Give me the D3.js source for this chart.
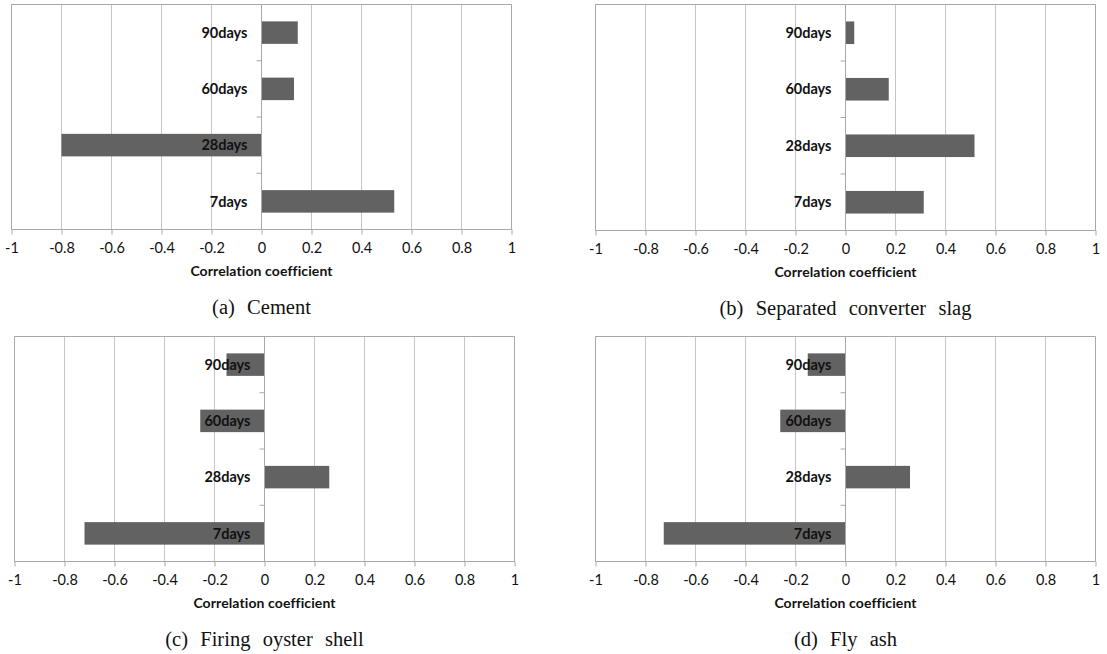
<!DOCTYPE html>
<html>
<head>
<meta charset="utf-8">
<script src="https://cdn.jsdelivr.net/npm/d3@7"></script>
<style>
  body { margin: 0; background: #fff; }
  svg { display: block; }
</style>
</head>
<body>
<div id="chart"></div>
<script>
// categories, top to bottom as drawn
let categories = ["90days", "60days", "28days", "7days"];

// correlation coefficients, same order as categories
let cementValues = [0.145, 0.13, -0.80, 0.531];
let slagValues = [0.035, 0.173, 0.516, 0.313];
let oysterValues = [-0.152, -0.257, 0.259, -0.72];
let flyAshValues = [-0.151, -0.261, 0.258, -0.727];

let tickValues = [-1, -0.8, -0.6, -0.4, -0.2, 0, 0.2, 0.4, 0.6, 0.8, 1];
let axisTitle = "Correlation coefficient";
let captions = ["(a)  Cement", "(b)  Separated  converter  slag", "(c)  Firing  oyster  shell", "(d)  Fly  ash"];

let width = 1107,
    height = 654;

// plot areas of the four panels
let panels = [
    {values: cementValues, caption: captions[0], left: 11.5, right: 511.5, top: 4.5, bottom: 229.5},
    {values: slagValues, caption: captions[1], left: 595.5, right: 1095.5, top: 4.5, bottom: 230.5},
    {values: oysterValues, caption: captions[2], left: 14.5, right: 514.5, top: 336.5, bottom: 561.5},
    {values: flyAshValues, caption: captions[3], left: 595.5, right: 1095.5, top: 336.5, bottom: 561.5}
];

let gridColor = "#c6c6c6",
    frameColor = "#a8a8a8",
    barColor = "#626262";

let svg = d3.select("#chart")
        .append("svg")
        .attr("width", width)
        .attr("height", height)

for (let p of panels) {
    drawPanel(p)
}

function drawPanel(p) {
    let visWidth = p.right - p.left,
        visHeight = p.bottom - p.top;

    let xScale = d3.scaleLinear()
            .domain([-1, 1])
            .range([0, visWidth])

    let yScale = d3.scaleBand()
            .domain(categories)
            .range([0, visHeight])
            .paddingInner(0.6)
            .paddingOuter(0.3)

    let bandScale = d3.scaleBand()
            .domain(categories)
            .range([0, visHeight])

    let data = categories.map(function(c, i) { return {cat: c, value: p.values[i]} })

    let chart = svg.append("g")
            .attr("transform", "translate(" + p.left + "," + p.top + ")")

    // vertical gridlines
    chart.selectAll(".grid")
    .data(tickValues)
    .enter().append("line")
    .attr("class", "grid")
    .attr("x1", function(d) { return xScale(d) })
    .attr("x2", function(d) { return xScale(d) })
    .attr("y1", 0)
    .attr("y2", visHeight)
    .attr("stroke", gridColor)
    .attr("stroke-width", 1)

    // plot area border (top, left, right)
    chart.append("path")
    .attr("d", "M0," + visHeight + "V0H" + visWidth + "V" + visHeight)
    .attr("fill", "none")
    .attr("stroke", frameColor)
    .attr("stroke-width", 1)

    // bars
    chart.selectAll(".bar")
    .data(data)
    .enter().append("rect")
    .attr("class", "bar")
    .attr("x", function(d) { return xScale(Math.min(0, d.value)) })
    .attr("width", function(d) { return Math.abs(xScale(d.value) - xScale(0)) })
    .attr("y", function(d) { return yScale(d.cat) })
    .attr("height", yScale.bandwidth())
    .attr("fill", barColor)

    // category axis at zero
    chart.append("line")
    .attr("x1", xScale(0))
    .attr("x2", xScale(0))
    .attr("y1", 0)
    .attr("y2", visHeight)
    .attr("stroke", frameColor)

    chart.selectAll(".ytick")
    .data(categories.slice(1))
    .enter().append("line")
    .attr("class", "ytick")
    .attr("x1", xScale(0) - 5)
    .attr("x2", xScale(0))
    .attr("y1", function(d) { return bandScale(d) })
    .attr("y2", function(d) { return bandScale(d) })
    .attr("stroke", frameColor)

    chart.selectAll(".catlabel")
    .data(categories)
    .enter().append("text")
    .attr("class", "catlabel")
    .attr("x", xScale(0) - 14)
    .attr("y", function(d) { return bandScale(d) + bandScale.bandwidth() / 2 })
    .attr("dy", "0.36em")
    .attr("text-anchor", "end")
    .attr("font-family", "Lato, 'Open Sans', sans-serif")
    .attr("font-weight", "bold")
    .attr("font-size", 14.5)
    .attr("fill", "#111")
    .text(function(d) { return d })

    // value axis
    let xAxis = d3.axisBottom(xScale)
            .tickValues(tickValues)
            .tickSize(5)
            .tickPadding(8)
            .tickFormat(function(d) { return String(+d.toFixed(1)) })

    let axisG = chart.append("g")
            .attr("transform", "translate(0," + visHeight + ")")
            .call(xAxis)

    axisG.select(".domain").attr("stroke", frameColor).attr("d", "M0,0H" + visWidth)
    axisG.selectAll(".tick line").attr("stroke", frameColor)
    axisG.selectAll(".tick text")
    .attr("font-family", "Lato, 'Open Sans', sans-serif")
    .attr("font-size", 14.5)
    .attr("fill", "#111")

    chart.append("text")
    .attr("x", visWidth / 2)
    .attr("y", visHeight + 41)
    .attr("dy", "0.36em")
    .attr("text-anchor", "middle")
    .attr("font-family", "Lato, 'Open Sans', sans-serif")
    .attr("font-weight", "bold")
    .attr("font-size", 14)
    .attr("letter-spacing", 0.1)
    .attr("fill", "#111")
    .text(axisTitle)

    chart.append("text")
    .attr("x", visWidth / 2)
    .attr("y", visHeight + 77)
    .attr("dy", "0.35em")
    .attr("text-anchor", "middle")
    .attr("font-family", "'Liberation Serif', 'Times New Roman', serif")
    .attr("font-size", 20.5)
    .attr("word-spacing", 1)
    .attr("fill", "#111")
    .style("white-space", "pre")
    .text(p.caption)
}
</script>
</body>
</html>
